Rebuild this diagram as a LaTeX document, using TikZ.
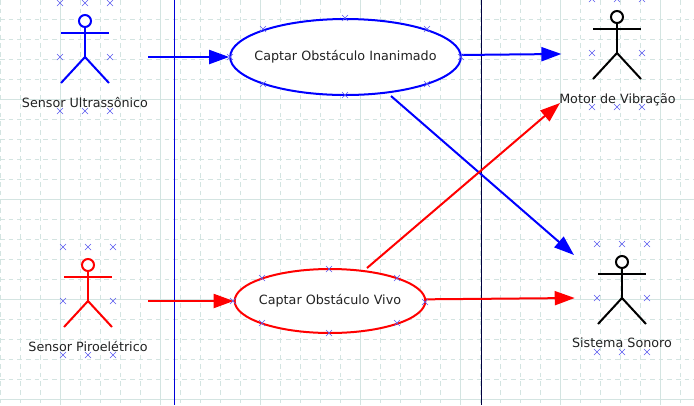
\documentclass[tikz,border=0pt]{standalone}
\usepackage{fontspec}
\setmainfont{DejaVu Sans}
\usetikzlibrary{shapes.geometric}
\usetikzlibrary{arrows.meta}

\definecolor{gridGreen}{HTML}{D3E4E1}
\definecolor{handleBlue}{HTML}{5A5AF0}
\definecolor{textGray}{HTML}{222222}

\begin{document}
\begin{tikzpicture}[x=0.75pt,y=-0.75pt,
        majorGrid/.style = {draw=gridGreen,line width=0.75pt},
        minorGrid/.style = {draw=gridGreen,line width=0.6pt,dash pattern=on 3.5pt off 3pt},
        actorBox/.style = {shape=rectangle,inner sep=0pt,minimum height=75pt},
        actorLine/.style = {line width=1.5pt},
        useCase/.style = {shape=ellipse,draw,fill=white,line width=1.5pt,inner xsep=-12pt,inner ysep=0pt,text=textGray,font=\fontsize{9.55pt}{11pt}\selectfont},
        caption/.style = {text=textGray,inner sep=0pt,font=\fontsize{9.55pt}{11pt}\selectfont},
        assoc/.style = {line width=1.5pt,-{Triangle[length=15pt,width=10.5pt]}},
        handle/.pic = {\draw[handleBlue,line width=0.5pt] (-3,-3) -- (3,3) (-3,3) -- (3,-3);},
        actor/.pic = {
            \draw[actorLine,fill=white] (0,-36) circle (6);
            \draw[actorLine] (0,-30) -- (0,0);
            \draw[actorLine] (-24,-24) -- (24,-24);
            \draw[actorLine] (-24,26) -- (0,0) -- (24,26);
            \foreach \hx/\hy in {-25/-54,0/-54,25/-54,-25/0,25/0,-25/54,0/54,25/54}
                \pic at (\hx,\hy) {handle};
        }
        ]
        \useasboundingbox (0,0) rectangle (694,405);
        \fill[white] (0,0) rectangle (694,405);
        % grid
        \foreach \gx in {0,20,...,680} \draw[minorGrid] (\gx,0) -- (\gx,405);
        \foreach \gy in {19,39,...,399} \draw[minorGrid] (0,\gy) -- (694,\gy);
        \foreach \gx in {60,160,...,660} \draw[majorGrid] (\gx,0) -- (\gx,405);
        \foreach \gy in {99,199,...,399} \draw[majorGrid] (0,\gy) -- (694,\gy);
        % system boundaries
        \draw[blue!85!black,line width=0.75pt] (174,0) -- (174,405);
        \draw[blue!25!black,line width=0.75pt] (481.5,0) -- (481.5,405);
        % actors
        \node[actorBox,minimum width=94.5pt] (ultra) at (85,57) {};
        \node[actorBox,minimum width=90pt] (piro) at (88,301) {};
        \node[actorBox,minimum width=83pt] (motor) at (617,53) {};
        \node[actorBox,minimum width=70.5pt] (sonoro) at (622,298) {};
        \pic[blue] at (ultra) {actor};
        \pic[red] at (piro) {actor};
        \pic[black] at (motor) {actor};
        \pic[black] at (sonoro) {actor};
        \node[caption] (ultraLabel) at (85,102) {Sensor Ultrassônico};
        \node[caption] (piroLabel) at (88,346) {Sensor Piroelétrico};
        \node[caption] (motorLabel) at (617.5,99.5) {Motor de Vibração};
        \node[caption] (sonoroLabel) at (622,343) {Sistema Sonoro};
        % use cases
        \node[useCase,draw=blue,minimum width=173pt,minimum height=57pt] (capI) at (345.5,57) {Captar Obstáculo Inanimado};
        \node[useCase,draw=red,minimum width=143pt,minimum height=48pt] (capV) at (330,301) {Captar Obstáculo Vivo};
        % free ends
        \coordinate (capIout) at (391,96);
        \coordinate (capVout) at (367,268);
        \coordinate (motorIn) at (560,103);
        \coordinate (sonoroIn) at (574,255);
        % associations
        \draw[assoc,blue] (ultra.east) -- (capI.west);
        \draw[assoc,blue] (capI.1) -- (motor.181);
        \draw[assoc,blue] (capIout) -- (sonoroIn);
        \draw[assoc,red] (piro.east) -- (capV.west);
        \draw[assoc,red] (capV.1) -- (sonoro.west);
        \draw[assoc,red] (capVout) -- (motorIn);
        % handles on the use cases
        \foreach \hx/\hy in {345/18,263/29,427/29,230/57,461/57,263/84,427/84,345/95,329/269,262/278,397/278,233/301,425/302,262/323,397/323,329/333}
            \pic at (\hx,\hy) {handle};
    \end{tikzpicture}
\end{document}
